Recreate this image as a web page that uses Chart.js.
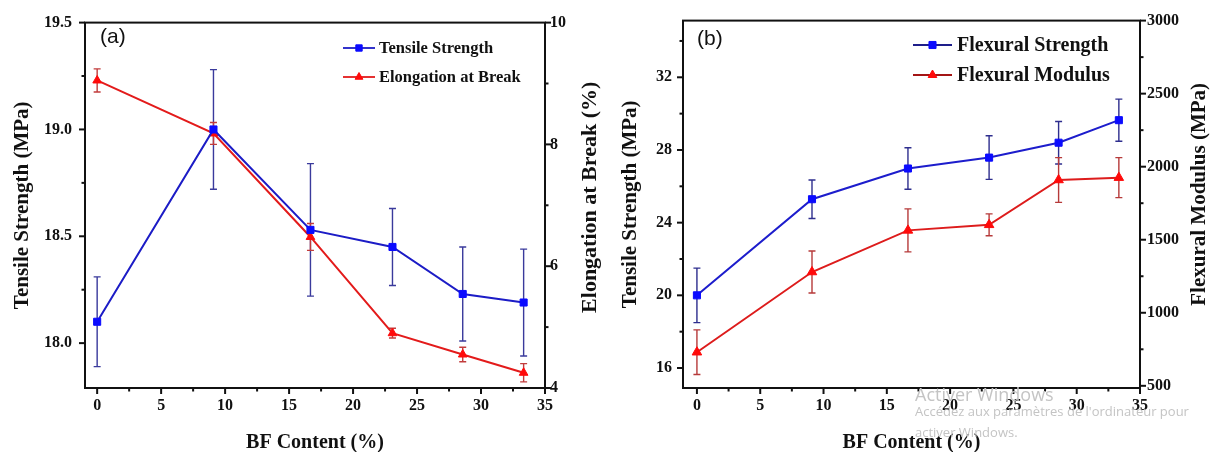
<!DOCTYPE html>
<html><head><meta charset="utf-8">
<script src="https://cdn.jsdelivr.net/npm/chart.js@4.4.1/dist/chart.umd.min.js"></script>
<style>
html,body{margin:0;padding:0;background:#fff;width:1215px;height:452px;overflow:hidden;}
#wrapA{position:absolute;left:0;top:0;width:608px;height:452px;}
#wrapB{position:absolute;left:608px;top:0;width:607px;height:452px;}
.wm{position:absolute;left:915px;font-family:'Open Sans','Noto Sans',sans-serif;color:#c4c4c4;white-space:nowrap;}
</style></head><body>
<div id="wrapA"><canvas id="chartA" width="608" height="452"></canvas></div>
<div id="wrapB"><canvas id="chartB" width="607" height="452"></canvas></div>
<div class="wm" style="top:383px;font-size:18px;line-height:22px;">Activer Windows</div>
<div class="wm" style="top:403px;font-size:13px;line-height:16px;">Accédez aux paramètres de l'ordinateur pour</div>
<div class="wm" style="top:424px;font-size:13px;line-height:16px;">activer Windows.</div>
<script>
// ---------- data ----------
const bfContent = [0, 9.09, 16.67, 23.08, 28.57, 33.33];
const tensileStrength = [18.10, 19.00, 18.53, 18.45, 18.23, 18.19];
const tensileErr = [0.21, 0.28, 0.31, 0.18, 0.22, 0.25];
const elongation = [9.05, 8.18, 6.48, 4.90, 4.55, 4.25];
const elongationErr = [0.19, 0.18, 0.22, 0.08, 0.12, 0.15];
const flexStrength = [20.0, 25.29, 26.98, 27.58, 28.40, 29.64];
const flexStrengthErr = [1.5, 1.06, 1.14, 1.2, 1.17, 1.16];
const flexModulus = [730, 1279, 1564, 1602, 1909, 1925];
const flexModulusErr = [153, 144, 147, 75, 153, 137];

const xTickLabels = [0, 5, 10, 15, 20, 25, 30, 35];
const tensileTickLabels = [18.0, 18.5, 19.0, 19.5];
const elongTickLabels = [4, 6, 8, 10];
const flexStrTickLabels = [16, 20, 24, 28, 32];
const flexModTickLabels = [500, 1000, 1500, 2000, 2500, 3000];

// ---------- helpers ----------
const SERIF = "'Liberation Serif','Times New Roman',serif";
const SANS = "'Liberation Sans',Arial,sans-serif";
const INK = '#111';
function isLabel(list, v) { return list.some(l => Math.abs(l - v) < 1e-6); }
function pts(ys) { return bfContent.map((x, i) => ({x: x, y: ys[i]})); }
// major ticks come from the label arrays; one minor tick halfway between them (and beyond, inside the range)
function tickValues(labels, min, max) {
  const half = (labels[1] - labels[0]) / 2;
  const out = [];
  const start = labels[0] - Math.floor((labels[0] - min) / half) * half;
  for (let v = start; v <= max + 1e-9; v += half) out.push({value: Math.round(v * 1e6) / 1e6});
  return out;
}

function drawMarker(ctx, style, x, y, r, color) {
  ctx.save();
  ctx.fillStyle = color; ctx.strokeStyle = color; ctx.lineWidth = 1;
  ctx.beginPath();
  if (style === 'rect') {
    const s = r * Math.SQRT1_2;
    ctx.rect(x - s, y - s, 2 * s, 2 * s);
  } else {
    for (let k = 0; k < 3; k++) {
      const a = k * 2 * Math.PI / 3;
      const px = x + Math.sin(a) * r, py = y - Math.cos(a) * r;
      if (k === 0) ctx.moveTo(px, py); else ctx.lineTo(px, py);
    }
    ctx.closePath();
  }
  ctx.fill(); ctx.stroke();
  ctx.restore();
}

const errorBarPlugin = {
  id: 'errorBars',
  beforeDatasetsDraw(chart) {
    const ctx = chart.ctx;
    chart.data.datasets.forEach((ds, i) => {
      const meta = chart.getDatasetMeta(i);
      const xs = chart.scales[meta.xAxisID], ys = chart.scales[meta.yAxisID];
      ctx.save();
      ctx.strokeStyle = ds.errorColor; ctx.lineWidth = 1.4;
      ds.data.forEach((p, j) => {
        const e = ds.errors[j];
        const x = xs.getPixelForValue(p.x);
        const y1 = ys.getPixelForValue(p.y + e), y2 = ys.getPixelForValue(p.y - e);
        ctx.beginPath();
        ctx.moveTo(x, y1); ctx.lineTo(x, y2);
        ctx.moveTo(x - 3.5, y1); ctx.lineTo(x + 3.5, y1);
        ctx.moveTo(x - 3.5, y2); ctx.lineTo(x + 3.5, y2);
        ctx.stroke();
      });
      ctx.restore();
    });
  }
};

const decoPlugin = {
  id: 'deco',
  afterDraw(chart, args, opts) {
    const ctx = chart.ctx, a = chart.chartArea;
    ctx.save();
    ctx.strokeStyle = INK; ctx.lineWidth = 2;
    ctx.strokeRect(a.left, a.top, a.right - a.left, a.bottom - a.top);
    // tick marks (major and minor)
    Object.values(chart.scales).forEach(sc => {
      sc.ticks.forEach(t => {
        const len = (t.label !== '' && t.label != null) ? 6 : 3.5;
        const p = sc.getPixelForValue(t.value);
        ctx.beginPath();
        if (sc.position === 'bottom') { ctx.moveTo(p, a.bottom); ctx.lineTo(p, a.bottom + len); }
        else if (sc.position === 'left') { ctx.moveTo(a.left, p); ctx.lineTo(a.left - len, p); }
        else { ctx.moveTo(a.right, p); ctx.lineTo(a.right + len, p); }
        ctx.stroke();
      });
    });
    // right axis title, reading bottom to top
    const r = chart.scales.y1;
    ctx.fillStyle = INK;
    ctx.font = 'bold ' + opts.rightTitleSize + 'px ' + SERIF;
    ctx.textAlign = 'center'; ctx.textBaseline = 'middle';
    ctx.save();
    ctx.translate(r.right - opts.rightTitleOffset, (a.top + a.bottom) / 2 + opts.rightTitleShift);
    ctx.rotate(-Math.PI / 2);
    ctx.fillText(opts.rightTitle, 0, 0);
    ctx.restore();
    // panel label
    ctx.font = '21px ' + SANS;
    ctx.textAlign = 'left';
    ctx.fillText(opts.panel, opts.panelX, opts.panelY);
    // legend
    const L = opts.legend;
    ctx.font = 'bold ' + L.size + 'px ' + SERIF;
    chart.data.datasets.forEach((ds, i) => {
      const y = L.ys[i];
      ctx.strokeStyle = L.lineColors[i]; ctx.lineWidth = 1.8;
      ctx.beginPath(); ctx.moveTo(L.x0, y); ctx.lineTo(L.x1, y); ctx.stroke();
      drawMarker(ctx, ds.pointStyle, (L.x0 + L.x1) / 2, y, L.markerR, ds.pointBackgroundColor);
      ctx.fillStyle = INK;
      ctx.fillText(ds.label, L.textX, y + 1);
    });
    ctx.restore();
  }
};

function tickFont() { return {family: SERIF, size: 16, weight: 'bold'}; }
function titleFont(sz) { return {family: SERIF, size: sz || 20, weight: 'bold'}; }

function makeChart(id, cfg) {
  return new Chart(document.getElementById(id), {
    type: 'line',
    data: {datasets: cfg.datasets},
    plugins: [errorBarPlugin, decoPlugin],
    options: {
      responsive: false, animation: false,
      layout: {padding: {top: 18, left: 0, right: 0, bottom: 0}},
      plugins: {legend: {display: false}, tooltip: {enabled: false}, deco: cfg.deco},
      elements: {line: {tension: 0}},
      scales: {
        x: {
          type: 'linear', position: 'bottom', min: cfg.xMin, max: 35,
          grid: {display: false, drawTicks: false}, border: {display: false},
          afterBuildTicks(s) { s.ticks = tickValues(xTickLabels, s.min, s.max); },
          ticks: {autoSkip: false, maxRotation: 0, minRotation: 0,
                  padding: 8, color: INK, font: tickFont(),
                  callback: v => isLabel(xTickLabels, v) ? String(Math.round(v)) : ''},
          title: {display: true, text: 'BF Content (%)', color: INK, font: titleFont(20), padding: {top: 0, bottom: -3}},
          afterFit(s) { s.height = 64; }
        },
        y: {
          type: 'linear', position: 'left', min: cfg.yMin, max: cfg.yMax,
          grid: {display: false, drawTicks: false}, border: {display: false},
          afterBuildTicks(s) { s.ticks = tickValues(cfg.yLabels, s.min, s.max); },
          ticks: {autoSkip: false, padding: cfg.yPad, color: INK, font: tickFont(),
                  callback: v => isLabel(cfg.yLabels, v) ? cfg.yFmt(v) : ''},
          title: {display: true, text: 'Tensile Strength (MPa)', color: INK, font: titleFont(21), padding: {top: 10, bottom: 0}},
          afterFit(s) { s.width = cfg.yWidth; }
        },
        y1: {
          type: 'linear', position: 'right', min: cfg.y1Min, max: cfg.y1Max,
          grid: {display: false, drawTicks: false}, border: {display: false},
          afterBuildTicks(s) { s.ticks = tickValues(cfg.y1Labels, s.min, s.max); },
          ticks: {autoSkip: false, padding: cfg.y1Pad, color: INK, font: tickFont(),
                  callback: v => isLabel(cfg.y1Labels, v) ? String(Math.round(v)) : ''},
          afterFit(s) { s.width = cfg.y1Width; }
        }
      }
    }
  });
}

function series(label, ys, errs, style, r, line, point, errColor, axis) {
  return {label: label, data: pts(ys), errors: errs, errorColor: errColor, yAxisID: axis,
          borderColor: line, borderWidth: 2, fill: false,
          pointStyle: style, pointRadius: r, pointBackgroundColor: point, pointBorderColor: point, pointBorderWidth: 1};
}

makeChart('chartA', {
  datasets: [
    series('Tensile Strength', tensileStrength, tensileErr, 'rect', 5, '#1c1cc6', '#0b0bff', '#3a3a9c', 'y'),
    series('Elongation at Break', elongation, elongationErr, 'triangle', 5, '#e31b1b', '#ff0a0a', '#c23c3c', 'y1')
  ],
  xMin: -0.95,
  yMin: 17.79, yMax: 19.5, yLabels: tensileTickLabels, yFmt: v => v.toFixed(1), yPad: 13, yWidth: 85,
  y1Min: 4, y1Max: 10, y1Labels: elongTickLabels, y1Pad: 5, y1Width: 63,
  deco: {rightTitle: 'Elongation at Break (%)', rightTitleSize: 22, rightTitleOffset: 18, rightTitleShift: -8,
         panel: '(a)', panelX: 100, panelY: 37,
         legend: {x0: 343, x1: 375, textX: 379, ys: [48, 77], size: 16.5, markerR: 4.5, lineColors: ['#1c1cc6', '#e31b1b']}}
});

makeChart('chartB', {
  datasets: [
    series('Flexural Strength', flexStrength, flexStrengthErr, 'rect', 5, '#1d1dcc', '#0b0bff', '#2e2e8e', 'y'),
    series('Flexural Modulus', flexModulus, flexModulusErr, 'triangle', 5.5, '#dd1c1c', '#ff0a0a', '#b63a3a', 'y1')
  ],
  xMin: -1.1,
  yMin: 14.9, yMax: 35.12, yLabels: flexStrTickLabels, yFmt: v => String(Math.round(v)), yPad: 11, yWidth: 75,
  y1Min: 485, y1Max: 3000, y1Labels: flexModTickLabels, y1Pad: 7, y1Width: 75,
  deco: {rightTitle: 'Flexural Modulus (MPa)', rightTitleSize: 21, rightTitleOffset: 15, rightTitleShift: -10,
         panel: '(b)', panelX: 89, panelY: 39,
         legend: {x0: 305, x1: 344, textX: 349, ys: [45, 75], size: 20, markerR: 5, lineColors: ['#1e1e8a', '#a31515']}}
});
</script>
</body></html>
